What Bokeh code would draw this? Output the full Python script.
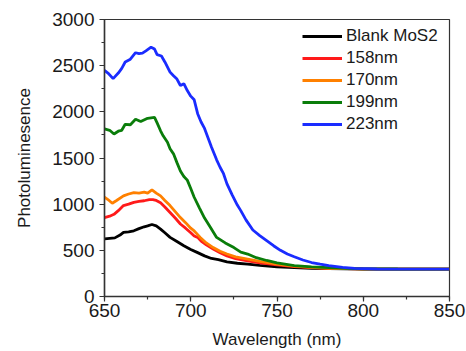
from bokeh.plotting import figure
from bokeh.models import SingleIntervalTicker, Legend, LegendItem, Range1d
from bokeh.embed import file_html
from bokeh.resources import INLINE

# ---- data ----
blank_nm = [650, 653, 656, 659, 661, 664, 667, 670, 673, 675, 677.5, 680, 682.5, 685, 688, 692, 696, 700,
            704, 708, 712, 716, 721, 727, 733, 740, 750, 760, 770, 780, 800, 850]
blank_pl = [625, 630, 635, 665, 695, 700, 712, 735, 755, 765, 780, 765, 730, 690, 640, 595, 550, 510,
            475, 440, 412, 400, 376, 360, 350, 338, 322, 312, 305, 301, 298, 296]

n158_nm = [650, 653, 655.5, 658, 661, 664, 667, 670, 673, 676, 678, 680, 682.5, 685, 688, 691, 694, 697, 700,
           702, 704, 706, 709, 713, 717, 721, 726, 733, 740, 750, 760, 770, 780, 800, 850]
n158_pl = [855, 870, 890, 930, 985, 1000, 1020, 1030, 1037, 1050, 1050, 1040, 1015, 970, 910, 850, 785, 740, 690,
           655, 640, 600, 560, 515, 475, 440, 410, 385, 365, 343, 325, 312, 305, 300, 297]

n170_nm = [650, 652, 654.5, 657, 661, 664, 667, 670, 673, 675, 677.5, 680, 682.5, 685, 688, 691, 694, 697, 700,
           702, 705.5, 709, 713, 717, 721, 726, 733, 740, 750, 760, 770, 780, 800, 850]
n170_pl = [1075, 1050, 1010, 1040, 1090, 1110, 1125, 1120, 1130, 1120, 1155, 1120, 1090, 1040, 985, 920, 855, 800, 740,
           710, 640, 580, 530, 490, 460, 430, 405, 380, 350, 330, 315, 305, 300, 297]

n199_nm = [650, 653, 655.5, 658, 660, 662, 665, 668, 671, 675, 679, 680.5, 682.5, 684, 686.5, 688, 690, 692, 694,
           696, 698, 700, 702, 705, 708, 711, 715, 720, 725, 729, 733, 738, 744, 750, 760, 770, 780, 790, 800,
           820, 850]
n199_pl = [1815, 1800, 1760, 1790, 1800, 1865, 1860, 1920, 1895, 1930, 1940, 1880, 1795, 1740, 1670, 1600, 1545, 1450, 1360,
           1300, 1260, 1170, 1075, 960, 850, 760, 640, 580, 530, 480, 460, 420, 390, 365, 335, 320, 312, 305, 300,
           298, 297]

n223_nm = [650, 652, 655, 658, 660, 662, 665, 668, 670, 672, 674, 677, 679, 680.5, 683, 685, 688, 690, 692, 694,
           696, 698, 700, 702, 704, 706, 708, 710, 712, 715, 717, 719, 721, 724, 727, 729, 732, 736, 740, 744,
           748, 752, 756, 760, 765, 770, 775, 780, 788, 795, 808, 820, 835, 850]
n223_pl = [2450, 2420, 2360, 2420, 2470, 2540, 2570, 2640, 2630, 2635, 2660, 2700, 2680, 2620, 2605, 2540, 2430, 2390, 2355, 2285,
           2305, 2230, 2170, 2130, 1980, 1890, 1820, 1720, 1620, 1480, 1400, 1330, 1220, 1100, 990, 930, 830, 720, 660, 605,
           550, 500, 460, 430, 395, 368, 350, 335, 315, 305, 298, 296, 296, 296]

series_names = ["Blank MoS2", "158nm", "170nm", "199nm", "223nm"]
series_x = [blank_nm, n158_nm, n170_nm, n199_nm, n223_nm]
series_y = [blank_pl, n158_pl, n170_pl, n199_pl, n223_pl]
series_colors = ["#000000", "#ff1a1a", "#ff8000", "#0a7d0a", "#1a2cff"]

x_ticks_interval = 50
y_ticks_interval = 500
x_title = "Wavelength (nm)"
y_title = "Photoluminesence"

FONT = "Liberation Sans"
TXT = "#1a1a1a"

p = figure(width=466, height=351, output_backend="svg", toolbar_location=None,
           x_range=Range1d(650, 850), y_range=Range1d(0, 3000),
           min_border_left=104, min_border_right=17, min_border_top=19, min_border_bottom=55)
p.xgrid.visible = False
p.ygrid.visible = False
p.outline_line_color = "#333333"
p.outline_line_width = 1.2
p.background_fill_color = "white"
p.border_fill_color = "white"

renderers = []
for name, xs, ys, c in zip(series_names, series_x, series_y, series_colors):
    r = p.line(xs, ys, line_color=c, line_width=2.8)
    renderers.append(r)

p.xaxis.ticker = SingleIntervalTicker(interval=x_ticks_interval, num_minor_ticks=2)
p.yaxis.ticker = SingleIntervalTicker(interval=y_ticks_interval, num_minor_ticks=2)

for ax in (p.xaxis[0], p.yaxis[0]):
    ax.axis_line_color = "#333333"
    ax.axis_line_width = 1.5
    ax.major_tick_line_color = "#333333"
    ax.minor_tick_line_color = "#333333"
    ax.major_tick_line_width = 1.2
    ax.minor_tick_line_width = 1.2
    ax.major_tick_in = 0
    ax.major_tick_out = 5
    ax.minor_tick_in = 0
    ax.minor_tick_out = 3
    ax.major_label_text_font = FONT
    ax.major_label_text_font_size = "19px"
    ax.major_label_text_color = TXT
    ax.axis_label_text_font = FONT
    ax.axis_label_text_font_size = "17px"
    ax.axis_label_text_font_style = "normal"
    ax.axis_label_text_color = TXT

p.xaxis.axis_label = x_title
p.yaxis.axis_label = y_title
p.xaxis.major_label_standoff = 2
p.xaxis.axis_label_standoff = 10
p.yaxis.major_label_standoff = 5
p.yaxis.axis_label_standoff = 15

legend = Legend(items=[LegendItem(label=n, renderers=[r]) for n, r in zip(series_names, renderers)],
                location=(193, 157), orientation="vertical",
                border_line_alpha=0, background_fill_alpha=0,
                padding=5, margin=0, spacing=2,
                glyph_width=40, glyph_height=20, label_height=20, label_standoff=4,
                label_text_font=FONT, label_text_font_size="17px", label_text_color=TXT)
p.add_layout(legend, "center")

open("out.html", "w").write(file_html(p, INLINE))
